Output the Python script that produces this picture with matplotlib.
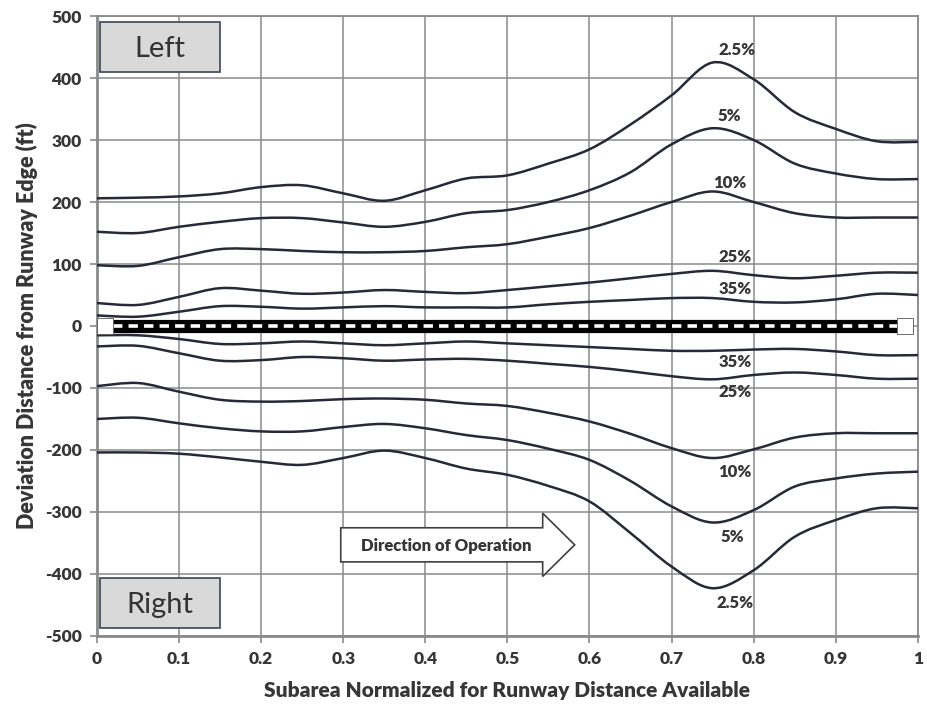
import numpy as np
import matplotlib
matplotlib.use("Agg")
import matplotlib.pyplot as plt
from matplotlib.path import Path
from matplotlib.patches import PathPatch, FancyArrow, Rectangle

# ---------------- data ----------------
x_pos = [0.00, 0.05, 0.10, 0.15, 0.20, 0.25, 0.30, 0.35, 0.40, 0.45, 0.50,
         0.55, 0.60, 0.65, 0.70, 0.75, 0.80, 0.85, 0.90, 0.95, 1.00]

left_2_5 = [206, 207, 209, 214, 224, 227, 214, 202, 219, 238, 243,
            262, 285, 325, 372, 425, 398, 345, 318, 298, 297]
left_5 = [152, 150, 160, 168, 174, 174, 167, 160, 168, 182, 187,
          200, 219, 248, 293, 319, 300, 262, 246, 237, 237]
left_10 = [98, 97, 111, 124, 124, 121, 119, 119, 121, 127, 132,
           144, 158, 178, 200, 217, 200, 182, 175, 175, 175]
left_25 = [37, 34, 47, 61, 57, 52, 54, 58, 55, 53, 58,
           64, 70, 77, 84, 89, 82, 77, 81, 86, 86]
left_35 = [17, 15, 23, 32, 31, 28, 30, 32, 30, 30, 30,
           35, 39, 42, 45, 45, 39, 38, 43, 52, 50]

right_35 = [-15, -15, -21, -29, -28, -25, -28, -31, -28, -25, -28,
            -31, -34, -37, -40, -40, -38, -37, -41, -47, -47]
right_25 = [-33, -32, -44, -56, -55, -50, -52, -56, -54, -53, -56,
            -61, -66, -73, -81, -86, -79, -75, -79, -85, -85]
right_10 = [-97, -92, -106, -119, -122, -121, -118, -117, -119, -125, -129,
            -140, -154, -174, -197, -213, -199, -180, -173, -173, -173]
right_5 = [-150, -148, -157, -165, -170, -170, -163, -158, -165, -176, -184,
           -198, -216, -250, -291, -317, -297, -259, -246, -238, -235]
right_2_5 = [-204, -204, -206, -212, -219, -224, -213, -201, -213, -230, -240,
             -258, -283, -334, -388, -423, -394, -340, -313, -294, -294]

series_labels = ["2.5%", "5%", "10%", "25%", "35%", "35%", "25%", "10%", "5%", "2.5%"]
series_values = [left_2_5, left_5, left_10, left_25, left_35,
                 right_35, right_25, right_10, right_5, right_2_5]

x_ticks = [0, 0.1, 0.2, 0.3, 0.4, 0.5, 0.6, 0.7, 0.8, 0.9, 1.0]
x_tick_labels = ["0", "0.1", "0.2", "0.3", "0.4", "0.5", "0.6", "0.7", "0.8", "0.9", "1"]
y_ticks = [-500, -400, -300, -200, -100, 0, 100, 200, 300, 400, 500]
y_tick_labels = ["-500", "-400", "-300", "-200", "-100", "0", "100", "200", "300", "400", "500"]

runway_x = [0.02, 0.975]
runway_y = [0, 0]
runway_end_x = [0.01, 0.985]

# ---------------- layout (positions / styles) ----------------
label_pos = [(0.78, 446), (0.771, 338), (0.771, 231), (0.777, 112), (0.777, 59),
             (0.777, -58), (0.777, -106), (0.777, -235), (0.774, -340), (0.777, -447)]

FONT = ["Lato", "DejaVu Sans"]
TXT = "#363636"
LINE = "#262938"
GRID = "#8a8a8a"
WT = "heavy"

plt.rcParams["font.family"] = FONT

fig = plt.figure(figsize=(9.28, 7.06), dpi=100)
ax = fig.add_axes([0.1045, 0.0992, 0.8845, 0.8781])
ax.set_xlim(0, 1)
ax.set_ylim(-500, 500)


def smooth_path(xs, ys):
    pts = np.column_stack([xs, ys]).astype(float)
    n = len(pts)
    verts = [pts[0]]
    codes = [Path.MOVETO]
    for i in range(n - 1):
        p0 = pts[i - 1] if i > 0 else pts[i]
        p1 = pts[i]
        p2 = pts[i + 1]
        p3 = pts[i + 2] if i + 2 < n else pts[i + 1]
        c1 = p1 + (p2 - p0) / 6.0
        c2 = p2 - (p3 - p1) / 6.0
        verts += [c1, c2, p2]
        codes += [Path.CURVE4] * 3
    return Path(verts, codes)


# grid
ax.set_xticks(x_ticks)
ax.set_xticklabels(x_tick_labels)
ax.set_yticks(y_ticks)
ax.set_yticklabels(y_tick_labels)
ax.grid(True, color=GRID, lw=1.1, zorder=0)
ax.set_axisbelow(True)
for s in ax.spines.values():
    s.set_color(GRID)
    s.set_linewidth(1.3)
ax.spines["left"].set_linewidth(2.0)
ax.spines["bottom"].set_linewidth(2.0)
ax.tick_params(axis="both", colors=GRID, length=5, width=1.2, labelcolor=TXT,
               labelsize=12.5, pad=6)
for lab in ax.get_xticklabels() + ax.get_yticklabels():
    lab.set_fontweight(WT)

# curves
for vals in series_values:
    ax.add_patch(PathPatch(smooth_path(x_pos, vals), fill=False, edgecolor=LINE,
                           lw=1.8, zorder=3, capstyle="round", joinstyle="round"))

# runway
ax.plot(runway_x, runway_y, color="black", lw=9.5, solid_capstyle="butt", zorder=5)
ax.plot(runway_x, runway_y, color="white", lw=2.6, dashes=(2.6, 1.7),
        dash_capstyle="butt", zorder=6)
ax.plot(runway_end_x, runway_y, ls="none", marker="s", markersize=11,
        mfc="white", mec="#555555", mew=0.6, zorder=7)

# series labels
for lab, (lx, ly) in zip(series_labels, label_pos):
    ax.text(lx, ly, lab, ha="center", va="center", fontsize=12,
            fontweight=WT, color=TXT, zorder=8)

# Left / Right boxes
for (bx, by, bw, bh, txt) in [(0.004, 0.910, 0.146, 0.081, "Left"),
                              (0.004, 0.013, 0.146, 0.081, "Right")]:
    ax.add_patch(Rectangle((bx, by), bw, bh, transform=ax.transAxes,
                           facecolor="#d9d9d9", edgecolor="#4a5060", lw=1.3, zorder=9))
    ax.text(bx + bw / 2, by + bh / 2 - 0.003, txt, transform=ax.transAxes,
            ha="center", va="center", fontsize=21, color="#333333", zorder=10)

# Direction arrow
arrow = FancyArrow(0.297, -353, 0.285, 0, width=55, head_width=102,
                   head_length=0.039, length_includes_head=True,
                   facecolor="white", edgecolor="#404040", lw=1.2, zorder=9)
ax.add_patch(arrow)
ax.text(0.426, -355, "Direction of Operation", ha="center", va="center",
        fontsize=12, fontweight=WT, color=TXT, zorder=10)

ax.set_xlabel("Subarea Normalized for Runway Distance Available", fontsize=15,
              fontweight=WT, color=TXT, labelpad=10)
ax.set_ylabel("Deviation Distance from Runway Edge (ft)", fontsize=15.5,
              fontweight=WT, color=TXT, labelpad=5)

fig.savefig("out.png", dpi=100, facecolor="white")
